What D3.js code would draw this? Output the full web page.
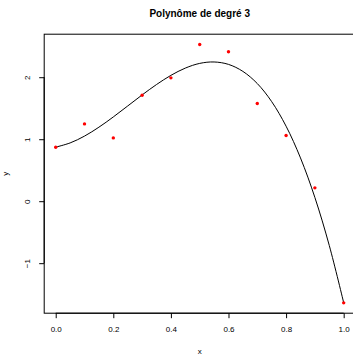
<!DOCTYPE html>
<html>
<head>
<meta charset="utf-8">
<script src="https://d3js.org/d3.v7.min.js"></script>
<style>
  body { margin: 0; background: #fff; }
  text { font-family: "Liberation Sans", Arial, sans-serif; }
</style>
</head>
<body>
<script>
// observed points
var xs = [0, 0.1, 0.2, 0.3, 0.4, 0.5, 0.6, 0.7, 0.8, 0.9, 1.0];
var ys = [0.871, 1.247, 1.021, 1.71, 1.99, 2.527, 2.41, 1.575, 1.06, 0.215, -1.64];

// fitted curve, every 0.05
var curveX = [0, 0.05, 0.1, 0.15, 0.2, 0.25, 0.3, 0.35, 0.4, 0.45, 0.5,
              0.55, 0.6, 0.65, 0.7, 0.75, 0.8, 0.85, 0.9, 0.95, 1.0];
var curveY = [0.872, 0.940, 1.050, 1.194, 1.359, 1.536, 1.714, 1.882, 2.030, 2.147, 2.223,
              2.246, 2.207, 2.094, 1.898, 1.606, 1.210, 0.698, 0.060, -0.715, -1.638];

var xTicks = [0, 0.2, 0.4, 0.6, 0.8, 1.0];
var yTicks = [-1, 0, 1, 2];

var W = 353, H = 354;
var plot = {left: 44.2, right: 355.2, top: 34.2, bottom: 313.2};

var x = d3.scaleLinear().domain([-0.04, 1.04]).range([plot.left, plot.right]);
var y = d3.scaleLinear().domain([-1.807, 2.694]).range([plot.bottom, plot.top]);

var svg = d3.select("body").append("svg")
    .attr("width", W)
    .attr("height", H);

// title
svg.append("text")
    .attr("x", (plot.left + plot.right) / 2)
    .attr("y", 17)
    .attr("text-anchor", "middle")
    .style("font-weight", "bold")
    .style("font-size", "10px")
    .text("Polynôme de degré 3");

// box
svg.append("rect")
    .attr("x", plot.left)
    .attr("y", plot.top)
    .attr("width", plot.right - plot.left)
    .attr("height", plot.bottom - plot.top)
    .attr("fill", "none")
    .attr("stroke", "#000")
    .attr("stroke-width", 1);

// x axis
var xAxis = svg.append("g")
    .attr("transform", "translate(0," + plot.bottom + ")")
    .call(d3.axisBottom(x).tickValues(xTicks).tickSize(5).tickPadding(8.5)
      .tickFormat(d3.format(".1f")));
xAxis.select(".domain").attr("d", "M" + x(0) + ",0H" + x(1));
xAxis.selectAll("text").style("font-size", "8px").style("font-family", "Liberation Sans, Arial, sans-serif");

// y axis
var yAxis = svg.append("g")
    .attr("transform", "translate(" + plot.left + ",0)")
    .call(d3.axisLeft(y).tickValues(yTicks).tickSize(5).tickFormat(function(d) {
      return d < 0 ? "\u2212" + Math.abs(d) : d;
    }));
yAxis.select(".domain").attr("d", "M0," + y(-1) + "V" + y(2));
yAxis.selectAll(".tick text")
    .attr("x", null).attr("dy", null)
    .attr("text-anchor", "middle")
    .attr("transform", "translate(-16.5,0) rotate(-90)")
    .attr("dy", "0.32em")
    .style("font-size", "8px")
    .style("font-family", "Liberation Sans, Arial, sans-serif");

// axis titles
svg.append("text")
    .attr("x", (plot.left + plot.right) / 2)
    .attr("y", 353.5)
    .attr("text-anchor", "middle")
    .style("font-size", "8px")
    .text("x");

svg.append("text")
    .attr("transform", "translate(8.3," + ((plot.top + plot.bottom) / 2) + ") rotate(-90)")
    .attr("text-anchor", "middle")
    .style("font-size", "8px")
    .text("y");

// fitted curve
var line = d3.line()
    .curve(d3.curveCatmullRom)
    .x(function(d, i) { return x(curveX[i]); })
    .y(function(d) { return y(d); });

svg.append("path")
    .datum(curveY)
    .attr("d", line)
    .attr("fill", "none")
    .attr("stroke", "#000")
    .attr("stroke-width", 1);

// points
svg.selectAll("circle.pt")
    .data(ys)
  .enter().append("circle")
    .attr("class", "pt")
    .attr("cx", function(d, i) { return x(xs[i]); })
    .attr("cy", function(d) { return y(d); })
    .attr("r", 1.7)
    .attr("fill", "#ff0000");
</script>
</body>
</html>
